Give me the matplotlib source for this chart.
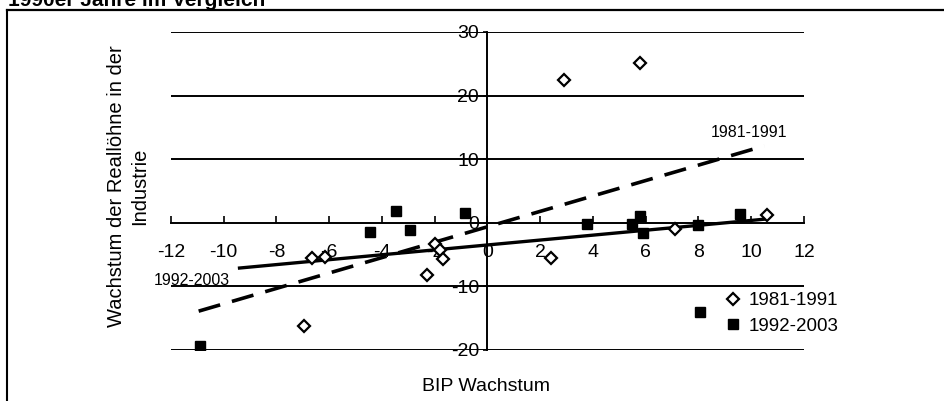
import numpy as np
import matplotlib
matplotlib.use("Agg")
import matplotlib.pyplot as plt
from matplotlib.lines import Line2D

plt.rcParams['font.family'] = ['Liberation Sans', 'DejaVu Sans']

# 1981-1991 (open diamonds)
bip_8191 = [2.9, 5.8, 2.4, 7.1, 10.6, -6.65, -6.15, -6.95, -2.3, -2.0, -1.8, -1.7]
lohn_8191 = [22.5, 25.2, -5.5, -0.9, 1.3, -5.5, -5.3, -16.3, -8.2, -3.3, -4.3, -5.7]

# 1992-2003 (filled squares)
bip_9203 = [-10.9, -4.45, -3.47, -2.93, -0.85, 3.77, 5.47, 5.78, 5.9, 7.97, 9.56, 8.05]
lohn_9203 = [-19.4, -1.5, 1.8, -1.2, 1.6, -0.2, -0.2, 1.1, -1.6, -0.4, 1.4, -14.0]

# x range over which the trend lines are drawn
trend_x_8191 = [-10.95, 10.5]
trend_x_9203 = [-9.4, 10.5]

xticks = [-12, -10, -8, -6, -4, -2, 0, 2, 4, 6, 8, 10, 12]
yticks = [-20, -10, 0, 10, 20, 30]

fig = plt.figure(figsize=(9.44, 4.01), dpi=100)
ax = fig.add_axes([0.1811, 0.1272, 0.6705, 0.793])

ax.plot(bip_8191, lohn_8191, linestyle='none', marker='D', markersize=6.5,
        markerfacecolor='white', markeredgecolor='black', markeredgewidth=1.6,
        label='1981-1991', zorder=5)
ax.plot(bip_9203, lohn_9203, linestyle='none', marker='s', markersize=7,
        color='black', label='1992-2003', zorder=5)

# linear trend lines (OLS)
k1, d1 = np.polyfit(bip_8191, lohn_8191, 1)
k2, d2 = np.polyfit(bip_9203, lohn_9203, 1)
tx1 = np.array(trend_x_8191)
tx2 = np.array(trend_x_9203)
ax.plot(tx1, k1 * tx1 + d1, color='black', linewidth=2.6, linestyle=(0, (6.2, 3.4)), zorder=4)
ax.plot(tx2, k2 * tx2 + d2, color='black', linewidth=2.4, zorder=4)

ax.text(9.9, 14.2, '1981-1991', fontsize=11.5, ha='center', va='center')
ax.text(-11.2, -9.0, '1992-2003', fontsize=11.5, ha='center', va='center')

ax.set_xlim(-12, 12)
ax.set_ylim(-20, 30)

ax.spines['left'].set_position(('data', 0))
ax.spines['bottom'].set_position(('data', 0))
ax.spines['top'].set_visible(False)
ax.spines['right'].set_visible(False)
ax.spines['left'].set_linewidth(1.4)
ax.spines['bottom'].set_linewidth(1.4)

ax.set_xticks(xticks)
ax.set_yticks(yticks)
ax.set_xticklabels([str(v) for v in xticks])
ax.set_yticklabels([str(v) for v in yticks])
ax.tick_params(axis='x', direction='in', length=5, width=1.2, pad=15, labelsize=14)
ax.tick_params(axis='y', direction='out', length=3, width=1.2, pad=3, labelsize=14)

# horizontal gridlines drawn over the tick labels
for v in yticks:
    if v != 0:
        ax.axhline(v, color='black', linewidth=1.4, zorder=3)

ax.legend(loc='upper left', bbox_to_anchor=(0.865, 0.205), frameon=False,
          fontsize=13.5, handlelength=0.8, handletextpad=0.4, labelspacing=0.45,
          borderaxespad=0)

fig.text(0.1355, 0.535, 'Wachstum der Reallöhne in der\nIndustrie', rotation=90,
         ha='center', va='center', multialignment='center', fontsize=14.5, linespacing=1.3)
fig.text(0.515, 0.037, 'BIP Wachstum', ha='center', va='center', fontsize=14)
fig.text(0.009, 0.985, '1990er Jahre im Vergleich', fontsize=15, fontweight='bold',
         ha='left', va='baseline')

# outer frame (top and left edges)
fig.add_artist(Line2D([0.0074, 1.0], [0.975, 0.975], color='black', linewidth=1.6))
fig.add_artist(Line2D([0.0074, 0.0074], [0.0, 0.975], color='black', linewidth=1.5))

fig.savefig('out.png', dpi=100)
